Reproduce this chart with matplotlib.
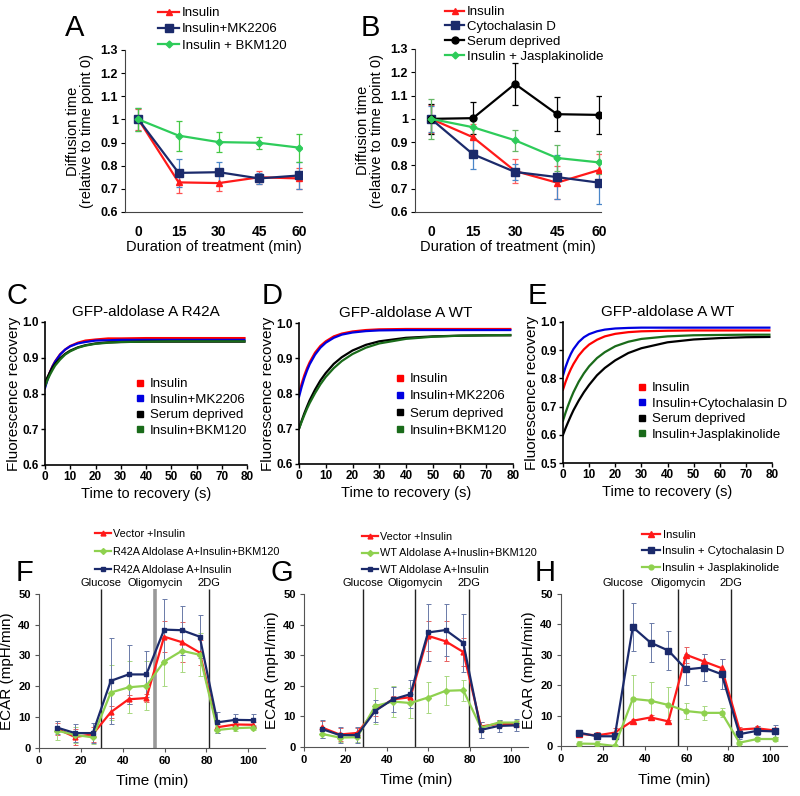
import matplotlib
matplotlib.use("Agg")
import matplotlib.pyplot as plt
from matplotlib.lines import Line2D
from matplotlib import font_manager

plt.rcParams['font.family'] = ['Liberation Sans', 'DejaVu Sans']
_names = {f.name for f in font_manager.fontManager.ttflist}
NARROW = 'Liberation Sans Narrow' if 'Liberation Sans Narrow' in _names else 'Liberation Sans'

# ---------------- data: A / B (diffusion time) ----------------
dur = [0, 15, 30, 45, 60]
diff_ticks = [0.6, 0.7, 0.8, 0.9, 1.0, 1.1, 1.2, 1.3]
diff_ticklabels = ['0.6', '0.7', '0.8', '0.9', '1', '1.1', '1.2', '1.3']

a_insulin = [1.0, 0.728, 0.725, 0.750, 0.745]
a_insulin_err = [0.045, 0.045, 0.035, 0.028, 0.045]
a_mk2206 = [1.0, 0.769, 0.772, 0.745, 0.758]
a_mk2206_err = [0.05, 0.062, 0.045, 0.025, 0.058]
a_bkm120 = [1.0, 0.930, 0.902, 0.899, 0.878]
a_bkm120_err = [0.05, 0.065, 0.043, 0.025, 0.06]

b_insulin = [1.0, 0.921, 0.776, 0.726, 0.780]
b_insulin_err = [0.06, 0.055, 0.05, 0.07, 0.07]
b_cytod = [1.0, 0.848, 0.772, 0.750, 0.726]
b_cytod_err = [0.055, 0.065, 0.035, 0.095, 0.09]
b_serum = [1.0, 1.003, 1.150, 1.020, 1.017]
b_serum_err = [0.065, 0.07, 0.09, 0.073, 0.08]
b_jasp = [1.0, 0.964, 0.908, 0.832, 0.813]
b_jasp_err = [0.085, 0.045, 0.045, 0.055, 0.05]

# ---------------- data: C / D / E (FRAP recovery) ----------------
frap_t = [0, 1, 2, 3, 4, 6, 8, 10, 13, 16, 20, 25, 30, 40, 50, 60, 70, 79]

c_insulin = [0.820, 0.842, 0.861, 0.877, 0.890, 0.910, 0.923, 0.933, 0.942, 0.948, 0.951, 0.954, 0.954, 0.955, 0.955, 0.955, 0.955, 0.955]
c_mk2206 = [0.815, 0.839, 0.860, 0.876, 0.889, 0.909, 0.923, 0.932, 0.940, 0.944, 0.948, 0.949, 0.950, 0.950, 0.950, 0.950, 0.950, 0.950]
c_serum = [0.830, 0.846, 0.860, 0.873, 0.883, 0.899, 0.911, 0.920, 0.929, 0.935, 0.940, 0.943, 0.944, 0.945, 0.945, 0.945, 0.945, 0.945]
c_bkm120 = [0.820, 0.838, 0.853, 0.866, 0.878, 0.895, 0.909, 0.918, 0.928, 0.934, 0.939, 0.942, 0.944, 0.945, 0.946, 0.946, 0.946, 0.946]

d_insulin = [0.800, 0.828, 0.852, 0.872, 0.889, 0.916, 0.935, 0.948, 0.962, 0.970, 0.976, 0.980, 0.982, 0.983, 0.983, 0.983, 0.983, 0.983]
d_mk2206 = [0.790, 0.819, 0.844, 0.865, 0.883, 0.910, 0.930, 0.944, 0.958, 0.967, 0.973, 0.977, 0.979, 0.980, 0.980, 0.980, 0.980, 0.980]
d_serum = [0.700, 0.723, 0.744, 0.763, 0.781, 0.811, 0.837, 0.858, 0.884, 0.903, 0.922, 0.938, 0.948, 0.958, 0.962, 0.964, 0.965, 0.965]
d_bkm120 = [0.700, 0.720, 0.739, 0.757, 0.773, 0.801, 0.826, 0.847, 0.872, 0.892, 0.912, 0.930, 0.942, 0.955, 0.961, 0.964, 0.965, 0.966]

e_insulin = [0.760, 0.788, 0.812, 0.833, 0.851, 0.881, 0.903, 0.920, 0.937, 0.949, 0.958, 0.964, 0.967, 0.969, 0.970, 0.970, 0.970, 0.970]
e_cytod = [0.810, 0.841, 0.866, 0.887, 0.904, 0.929, 0.946, 0.957, 0.967, 0.973, 0.977, 0.979, 0.980, 0.980, 0.980, 0.980, 0.980, 0.980]
e_serum = [0.600, 0.624, 0.646, 0.667, 0.687, 0.721, 0.751, 0.777, 0.811, 0.837, 0.864, 0.890, 0.907, 0.928, 0.938, 0.943, 0.946, 0.947]
e_jasp = [0.650, 0.679, 0.705, 0.729, 0.751, 0.788, 0.818, 0.843, 0.872, 0.893, 0.914, 0.930, 0.940, 0.949, 0.953, 0.954, 0.955, 0.955]

# ---------------- data: F / G / H (ECAR) ----------------
ecar_t = [8.6, 17.2, 25.7, 34.3, 42.8, 51.3, 59.8, 68.3, 76.8, 85.3, 93.8, 102.3]
events = ['Glucose', 'Oligomycin', '2DG']
f_events = [29.8, 55.6, 81.3]
g_events = [28.5, 53.7, 79.4]
h_events = [29.8, 56.0, 81.4]

f_vector = [6.1, 3.4, 4.3, 11.5, 15.7, 16.1, 36.1, 34.3, 30.9, 6.6, 7.5, 7.4]
f_vector_err = [2.0, 2.5, 2.5, 2.0, 1.5, 1.2, 5.0, 6.5, 4.0, 1.0, 0.8, 0.8]
f_r42a_bkm = [5.5, 4.1, 3.3, 17.9, 19.6, 20.1, 28.0, 31.5, 30.2, 5.7, 6.3, 6.5]
f_r42a_bkm_err = [3.0, 2.5, 2.0, 9.0, 8.5, 8.0, 8.0, 7.0, 7.0, 1.0, 0.8, 0.8]
f_r42a = [6.5, 4.7, 4.7, 21.7, 23.8, 23.8, 38.4, 38.2, 36.1, 8.2, 9.0, 8.9]
f_r42a_err = [2.0, 3.0, 3.2, 14.0, 9.5, 7.5, 10.0, 8.0, 7.0, 3.5, 1.8, 2.0]

g_vector = [6.3, 4.0, 4.5, 11.9, 15.5, 16.2, 36.3, 34.5, 31.0, 6.6, 7.5, 7.4]
g_vector_err = [2.0, 2.0, 1.5, 2.0, 1.0, 1.0, 5.0, 6.5, 4.5, 1.5, 1.0, 1.0]
g_wt_bkm = [4.2, 3.0, 3.1, 13.3, 14.8, 14.3, 16.1, 18.3, 18.5, 6.2, 7.9, 7.9]
g_wt_bkm_err = [1.5, 1.5, 1.5, 6.0, 5.0, 5.0, 5.0, 4.7, 3.5, 1.0, 0.8, 0.8]
g_wt = [5.8, 3.8, 3.8, 11.7, 15.5, 17.2, 37.4, 38.2, 34.0, 5.5, 6.8, 7.0]
g_wt_err = [3.0, 2.5, 2.5, 3.5, 4.0, 4.5, 9.2, 8.5, 9.5, 2.5, 2.0, 2.0]

h_insulin = [4.0, 3.5, 4.4, 8.3, 9.4, 8.1, 30.0, 27.8, 25.6, 5.4, 5.8, 5.1]
h_insulin_err = [1.0, 1.0, 1.5, 0.7, 0.7, 0.6, 2.7, 2.5, 3.0, 1.0, 0.8, 0.8]
h_cytod = [4.4, 3.2, 3.2, 39.1, 34.0, 31.4, 25.2, 25.8, 23.6, 3.9, 5.0, 4.8]
h_cytod_err = [1.0, 1.0, 1.0, 8.0, 6.5, 6.5, 5.0, 4.3, 5.0, 1.5, 1.5, 2.0]
h_jasp = [0.8, 0.7, 0.0, 15.5, 14.9, 13.5, 11.5, 10.9, 10.9, 1.1, 2.3, 2.3]
h_jasp_err = [1.0, 1.0, 0.0, 7.7, 6.0, 6.0, 2.7, 2.2, 1.5, 0.5, 0.5, 0.5]

# ---------------- colours ----------------
RED = '#ff1a1a'
NAVY = '#1b2a6b'
GREEN = '#2ecc5a'
LGREEN = '#8fd14f'
FRAP_RED, FRAP_BLUE, FRAP_BLACK, FRAP_GREEN = '#ff0000', '#0000e0', '#000000', '#1a6b1a'

W, H = 800, 796
fig = plt.figure(figsize=(W / 100, H / 100), dpi=100)


def px_axes(l, t, r, b):
    return fig.add_axes([l / W, 1 - b / H, (r - l) / W, (b - t) / H])


def fxy(x, y):
    return (x / W, 1 - y / H)


def letter(x, y, s):
    fig.text(*fxy(x, y), s, fontsize=21, ha='center', va='center')


def px_legend(ax, handles, x, y, fs, hl, ls, tp, family=None):
    leg = ax.legend(handles=handles, loc='upper left', bbox_to_anchor=fxy(x, y),
                    bbox_transform=fig.transFigure, frameon=False, borderpad=0,
                    borderaxespad=0, handlelength=hl, labelspacing=ls,
                    handletextpad=tp, fontsize=fs)
    if family:
        for t in leg.get_texts():
            t.set_family(family)
    return leg


# ---------------- A / B ----------------
def diffusion_panel(ax, series, xlim):
    handles = []
    for y, err, color, ecolor, marker, ms, label in series:
        ax.errorbar(dur, y, yerr=err, fmt='none', ecolor=ecolor, elinewidth=0.9,
                    capsize=2.5, capthick=0.9, zorder=2)
        h, = ax.plot(dur, y, color=color, marker=marker, ms=ms, lw=1.6, label=label, zorder=3)
        handles.append(h)
    ax.set_xlim(*xlim)
    ax.set_ylim(0.6, 1.3)
    ax.set_yticks(diff_ticks)
    ax.set_yticklabels(diff_ticklabels, fontweight='bold', fontsize=9)
    ax.set_xticks(dur)
    ax.set_xticklabels([str(d) for d in dur], fontweight='bold', fontsize=10)
    ax.tick_params(axis='x', length=0, pad=9)
    ax.tick_params(axis='y', length=3, width=0.8, pad=2)
    for s in ['top', 'right']:
        ax.spines[s].set_visible(False)
    for s in ['left', 'bottom']:
        ax.spines[s].set_color('#444444')
    ax.set_xlabel('Duration of treatment (min)', fontsize=10.5, labelpad=1)
    ax.set_ylabel('Diffusion time\n(relative to time point 0)', fontsize=10.5, labelpad=5,
                  linespacing=1.0)
    return handles


axA = px_axes(125, 50, 302, 212)
hA = diffusion_panel(axA, [
    (a_insulin, a_insulin_err, RED, '#ff5050', '^', 5, 'Insulin'),
    (a_mk2206, a_mk2206_err, NAVY, '#4a86c8', 's', 5.5, 'Insulin+MK2206'),
    (a_bkm120, a_bkm120_err, GREEN, '#44c844', 'D', 3.5, 'Insulin + BKM120'),
], (-5, 61))
px_legend(axA, hA, 158, 7, 9.5, 1.6, 0.3, 0.2)
letter(75, 28, 'A')

axB = px_axes(415, 49, 601, 212)
hB = diffusion_panel(axB, [
    (b_insulin, b_insulin_err, RED, '#ff6060', '^', 5, 'Insulin'),
    (b_cytod, b_cytod_err, NAVY, '#4a86c8', 's', 5.5, 'Cytochalasin D'),
    (b_serum, b_serum_err, 'black', 'black', 'o', 5, 'Serum deprived'),
    (b_jasp, b_jasp_err, GREEN, '#66b866', 'D', 3.5, 'Insulin + Jasplakinolide'),
], (-5.7, 60.7))
px_legend(axB, hB, 445, 6, 9.5, 1.45, 0.2, 0.2)
letter(370, 28, 'B')


# ---------------- C / D / E ----------------
def frap_panel(ax, series, ylim, yticks, title):
    handles = []
    for y, color, label in series:
        ax.plot(frap_t, y, color=color, lw=1.6)
        handles.append(Line2D([], [], ls='none', marker='s', ms=4.5, color=color, label=label))
    ax.set_xlim(0, 80)
    ax.set_ylim(*ylim)
    ax.set_yticks(yticks)
    ax.set_yticklabels(['%.1f' % v for v in yticks], fontweight='bold', fontsize=8.5)
    ax.set_xticks(range(0, 81, 10))
    ax.set_xticklabels([str(v) for v in range(0, 81, 10)], fontweight='bold', fontsize=8.5)
    ax.tick_params(length=3, width=1, pad=1.5)
    for s in ['top', 'right']:
        ax.spines[s].set_visible(False)
    for s in ['left', 'bottom']:
        ax.spines[s].set_linewidth(1.2)
    ax.set_xlabel('Time to recovery (s)', fontsize=10.5, labelpad=3)
    ax.set_ylabel('Fluorescence recovery', fontsize=11, labelpad=1)
    ax.set_title(title, fontsize=11, pad=4)
    return handles


frap_ticks = [0.6, 0.7, 0.8, 0.9, 1.0]
axC = px_axes(45, 322, 247, 465)
hC = frap_panel(axC, [
    (c_insulin, FRAP_RED, 'Insulin'),
    (c_mk2206, FRAP_BLUE, 'Insulin+MK2206'),
    (c_serum, FRAP_BLACK, 'Serum deprived'),
    (c_bkm120, FRAP_GREEN, 'Insulin+BKM120'),
], (0.6, 1.0), frap_ticks, 'GFP-aldolase A R42A')
px_legend(axC, hC, 135, 378, 9.5, 0.8, 0.25, 0.3)
letter(17, 296, 'C')

axD = px_axes(299, 323, 513, 464)
hD = frap_panel(axD, [
    (d_insulin, FRAP_RED, 'Insulin'),
    (d_mk2206, FRAP_BLUE, 'Insulin+MK2206'),
    (d_serum, FRAP_BLACK, 'Serum deprived'),
    (d_bkm120, FRAP_GREEN, 'Insulin+BKM120'),
], (0.6, 1.0), frap_ticks, 'GFP-aldolase A WT')
px_legend(axD, hD, 395, 373, 9.5, 0.8, 0.38, 0.3)
letter(272, 296, 'D')

axE = px_axes(563, 322, 772, 463)
hE = frap_panel(axE, [
    (e_insulin, FRAP_RED, 'Insulin'),
    (e_cytod, FRAP_BLUE, 'Insulin+Cytochalasin D'),
    (e_serum, FRAP_BLACK, 'Serum deprived'),
    (e_jasp, FRAP_GREEN, 'Insulin+Jasplakinolide'),
], (0.5, 1.0), [0.5, 0.6, 0.7, 0.8, 0.9, 1.0], 'GFP-aldolase A WT')
px_legend(axE, hE, 637, 382, 9.5, 0.8, 0.25, 0.3)
letter(537, 296, 'E')


# ---------------- F / G / H ----------------
def ecar_panel(ax, series, ev_x, ev_colors, ev_widths):
    handles = []
    for y, err, color, ecolor, marker, ms, label in series:
        ax.errorbar(ecar_t, y, yerr=err, fmt='none', ecolor=ecolor, elinewidth=0.7,
                    capsize=1.8, capthick=0.7, zorder=2)
        h, = ax.plot(ecar_t, y, color=color, marker=marker, ms=ms, lw=1.6, label=label, zorder=3)
        handles.append(h)
    for x, name, c, w in zip(ev_x, events, ev_colors, ev_widths):
        ax.vlines(x, 0, 51.5, color=c, lw=w, clip_on=False, zorder=1)
        ax.text(x, 53.5, name, ha='center', va='center', fontsize=8, family=NARROW)
    ax.set_xlim(0, 108)
    ax.set_ylim(0, 50)
    ax.set_xticks(range(0, 101, 20))
    ax.set_xticklabels([str(v) for v in range(0, 101, 20)], fontweight='bold', fontsize=8)
    ax.set_yticks(range(0, 51, 10))
    ax.set_yticklabels([str(v) for v in range(0, 51, 10)], fontweight='bold', fontsize=8)
    ax.tick_params(length=3, width=0.8, pad=3, color='#555555')
    for s in ['top', 'right']:
        ax.spines[s].set_visible(False)
    for s in ['left', 'bottom']:
        ax.spines[s].set_color('#555555')
    ax.set_xlabel('Time (min)', fontsize=11, labelpad=6)
    ax.set_ylabel('ECAR (mpH/min)', fontsize=11, labelpad=3)
    return handles


axF = px_axes(39, 594, 265, 747.5)
hF = ecar_panel(axF, [
    (f_vector, f_vector_err, RED, '#e86060', '^', 3.5, 'Vector +Insulin'),
    (f_r42a_bkm, f_r42a_bkm_err, LGREEN, '#a8d880', 'D', 3, 'R42A Aldolase A+Insulin+BKM120'),
    (f_r42a, f_r42a_err, NAVY, '#6a7aa8', 's', 3.5, 'R42A Aldolase A+Insulin'),
], f_events, ['#222222', '#999999', '#222222'], [1.0, 2.6, 1.0])
px_legend(axF, hF, 95, 529, 7.8, 1.5, 0.75, 0.2, NARROW)
letter(25, 573, 'F')

axG = px_axes(304, 594, 528, 746.7)
hG = ecar_panel(axG, [
    (g_vector, g_vector_err, RED, '#e86060', '^', 3.5, 'Vector +Insulin'),
    (g_wt_bkm, g_wt_bkm_err, LGREEN, '#a8d880', 'D', 3, 'WT Aldolase A+Inuslin+BKM120'),
    (g_wt, g_wt_err, NAVY, '#6a7aa8', 's', 3.5, 'WT Aldolase A+Insulin'),
], g_events, ['#222222', '#222222', '#222222'], [1.0, 1.0, 1.0])
px_legend(axG, hG, 362, 532, 7.8, 1.5, 0.6, 0.2, NARROW)
letter(282, 573, 'G')

axH = px_axes(561, 594, 787, 746)
hH = ecar_panel(axH, [
    (h_insulin, h_insulin_err, RED, '#e86060', '^', 4, 'Insulin'),
    (h_cytod, h_cytod_err, NAVY, '#6a7aa8', 's', 5, 'Insulin + Cytochalasin D'),
    (h_jasp, h_jasp_err, LGREEN, '#a8d880', 'o', 3.5, 'Insulin + Jasplakinolide'),
], h_events, ['#222222', '#222222', '#222222'], [1.0, 1.0, 1.0])
px_legend(axH, hH, 642, 530, 8.2, 1.6, 0.55, 0.2, NARROW)
letter(545, 573, 'H')

fig.savefig('out.png', dpi=100)
